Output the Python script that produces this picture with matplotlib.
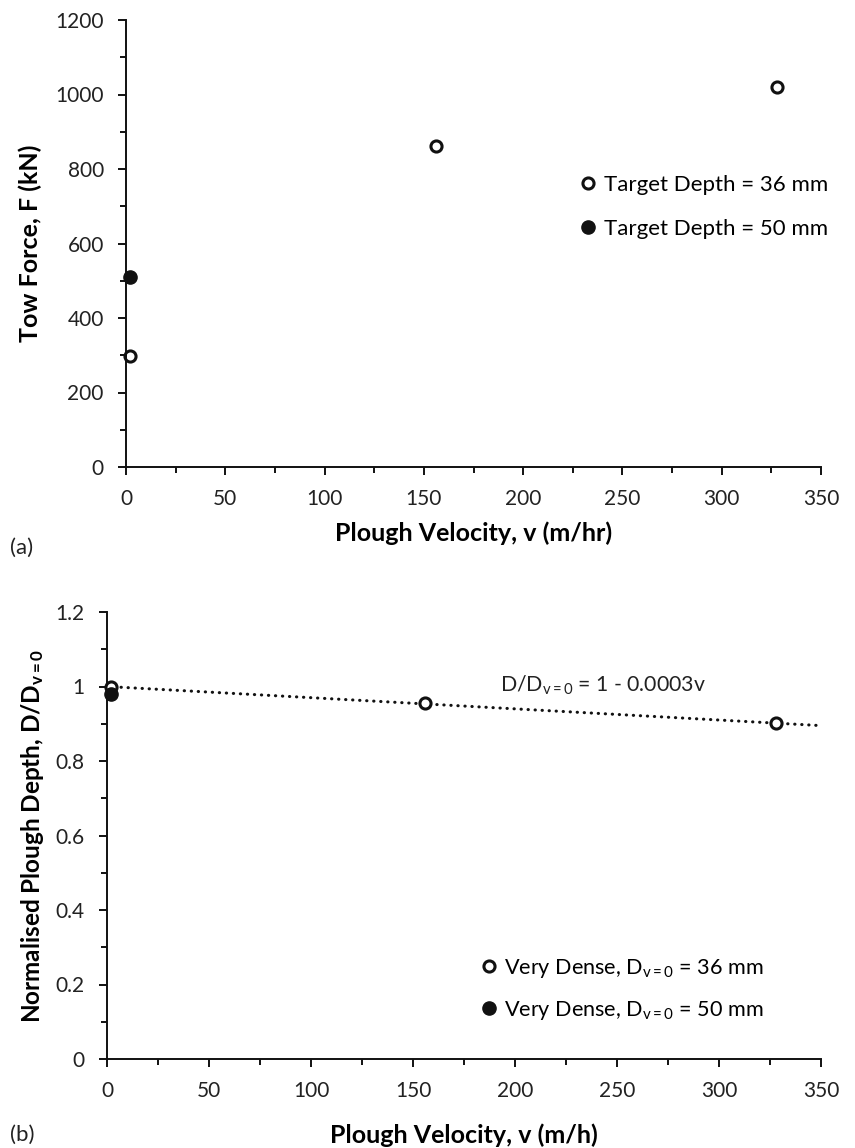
import matplotlib
matplotlib.use("Agg")
import matplotlib.pyplot as plt
import numpy as np
from matplotlib.ticker import MultipleLocator

plt.rcParams["font.family"] = ["Lato", "DejaVu Sans"]
plt.rcParams["mathtext.fontset"] = "custom"
plt.rcParams["mathtext.rm"] = "Lato"
plt.rcParams["mathtext.it"] = "Lato:italic"
plt.rcParams["mathtext.bf"] = "Lato:bold"

# (a) tow force vs velocity
v_36 = [2, 156, 328]
force_36 = [298, 862, 1020]
v_50 = [2]
force_50 = [511]

# (b) normalised depth vs velocity
depth_36 = [1.0, 0.957, 0.903]
depth_50 = [0.98]
fit_intercept = 1.0
fit_slope = -0.0003
fit_v = [0, 350]

W, H = 855, 1148
fig = plt.figure(figsize=(W / 100, H / 100), dpi=100)

ax_a = fig.add_axes([126 / W, 1 - 467 / H, 695 / W, 447 / H])
ax_b = fig.add_axes([107 / W, 1 - 1059 / H, 714 / W, 447 / H])

ink = "#111111"
open_kw = dict(marker="o", ms=8, mfc="white", mec=ink, mew=2.2, ls="none")
fill_kw = dict(marker="o", ms=9.5, mfc=ink, mec=ink, mew=1.0, ls="none")


def style(ax, ymax, ymaj, ymin):
    ax.set_xlim(0, 350)
    ax.set_ylim(0, ymax)
    ax.xaxis.set_major_locator(MultipleLocator(50))
    ax.xaxis.set_minor_locator(MultipleLocator(25))
    ax.yaxis.set_major_locator(MultipleLocator(ymaj))
    ax.yaxis.set_minor_locator(MultipleLocator(ymin))
    for s in ["top", "right"]:
        ax.spines[s].set_visible(False)
    for s in ["left", "bottom"]:
        ax.spines[s].set_linewidth(1.4)
        ax.spines[s].set_color(ink)
    ax.tick_params(which="major", length=6, width=1.4, color=ink, labelsize=15, pad=10)
    ax.tick_params(which="minor", length=4, width=1.4, color=ink)
    for lab in ax.get_xticklabels() + ax.get_yticklabels():
        lab.set_color("#222222")


style(ax_a, 1200, 200, 100)
ax_a.plot(v_36, force_36, label="Target Depth = 36 mm", clip_on=False, **open_kw)
ax_a.plot(v_50, force_50, label="Target Depth = 50 mm", clip_on=False, **fill_kw)
ax_a.set_xlabel("Plough Velocity, v (m/hr)", fontsize=18, fontweight="bold", va="center")
ax_a.xaxis.set_label_coords(0.5, (467 - 533) / 447)
ax_a.set_ylabel("Tow Force, F (kN)", fontsize=18, fontweight="bold", va="center")
ax_a.yaxis.set_label_coords((30 - 126) / 695, 0.5)
ax_a.legend(loc="center left", bbox_to_anchor=(579.5 / W, 1 - 207 / H),
            bbox_transform=fig.transFigure, frameon=False, fontsize=16,
            handlelength=0.8, handletextpad=0.32, labelspacing=1.1,
            borderpad=0, borderaxespad=0)

style(ax_b, 1.2, 0.2, 0.1)
ax_b.yaxis.set_major_formatter(matplotlib.ticker.FuncFormatter(lambda y, _: f"{y:g}"))
fit_y = [fit_intercept + fit_slope * v for v in fit_v]
ax_b.plot(fit_v, fit_y, color=ink, lw=2.2, ls=(0, (0.1, 2.2)), dash_capstyle="round", zorder=2)
ax_b.plot(v_36, depth_36, label=r"Very Dense, D$_{\mathrm{v=0}}$ = 36 mm", clip_on=False, zorder=3, **open_kw)
ax_b.plot(v_50, depth_50, label=r"Very Dense, D$_{\mathrm{v=0}}$ = 50 mm", clip_on=False, zorder=3, **fill_kw)
ax_b.set_xlabel("Plough Velocity, v (m/h)", fontsize=18, fontweight="bold", va="center")
ax_b.xaxis.set_label_coords(0.5, (1059 - 1135) / 447)
ax_b.set_ylabel(r"Normalised Plough Depth, D/D$_{\mathbf{v=0}}$", fontsize=17.5, fontweight="bold", va="center")
ax_b.yaxis.set_label_coords((32 - 107) / 714, 0.5)
ax_b.legend(loc="center left", bbox_to_anchor=(480 / W, 1 - 989.5 / H),
            bbox_transform=fig.transFigure, frameon=False, fontsize=15.6,
            handlelength=0.8, handletextpad=0.32, labelspacing=0.88,
            borderpad=0, borderaxespad=0)
fig.text(500 / W, 1 - 685 / H, r"D/D$_{\mathrm{v=0}}$ = 1 - 0.0003v", fontsize=15.3,
         va="center", ha="left", color="#222222")

fig.text(10 / W, 1 - 548 / H, "(a)", fontsize=16, va="center", ha="left", color="#222222")
fig.text(10 / W, 1 - 1135 / H, "(b)", fontsize=16, va="center", ha="left", color="#222222")

fig.savefig("out.png", dpi=100)
